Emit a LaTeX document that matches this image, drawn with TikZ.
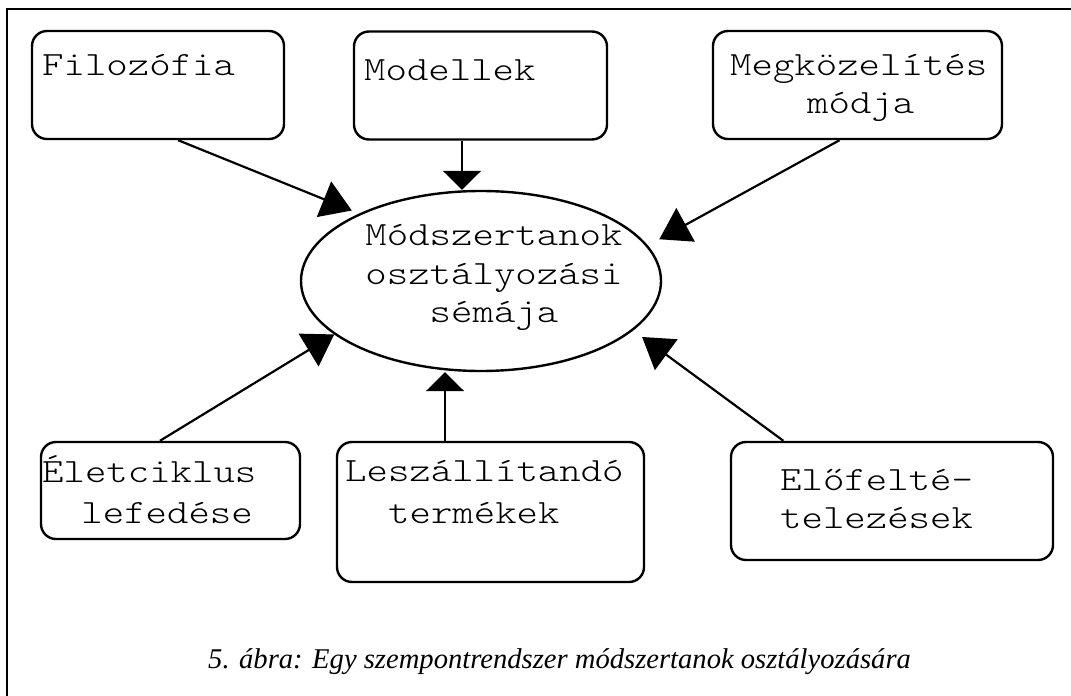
\documentclass[tikz,border=0pt]{standalone}
\usepackage{fontspec}
\setmainfont{Liberation Serif}
\newfontfamily\boxfont{Latin Modern Mono Light}[FakeStretch=1.2]
\usetikzlibrary{arrows.meta,shapes.geometric}
\begin{document}
\begin{tikzpicture}[x=1pt,y=-1pt,
  box/.style={draw,line width=2.4pt,rounded corners=15pt,inner sep=0pt},
  oval/.style={draw,line width=2.4pt,ellipse,inner sep=0pt,
    minimum width=360pt,minimum height=180pt},
  lbl/.style={inner sep=0pt,font=\boxfont\fontsize{34}{39}\selectfont},
  captxt/.style={inner sep=0pt,font=\fontsize{28.6}{32}\selectfont\itshape},
  slant/.style={line width=2.2pt,-{Triangle[length=30pt,width=38pt]}},
  vert/.style={line width=2.2pt,-{Triangle[length=19pt,width=38pt]}}]
\useasboundingbox (0,0) rectangle (1071,696);

% frame
\draw[line width=2.5pt] (7,696) -- (7,9) -- (1071,9);

% central oval
\node[oval] (ell) at (481,281) {};
\node[lbl,anchor=base] (ell1) at (494,245) {Módszertanok};
\node[lbl,anchor=base] (ell2) at (494,284) {osztályozási};
\node[lbl,anchor=base] (ell3) at (494,322) {sémája};

% upper boxes
\node[box,minimum width=252pt,minimum height=108pt] (filo) at (158,85) {};
\node[lbl,anchor=base west] (filoT) at (42,75) {Filozófia};

\node[box,minimum width=253pt,minimum height=108pt] (mod) at (480.5,85.5) {};
\node[lbl,anchor=base west] (modT) at (364,80) {Modellek};

\node[box,minimum width=289pt,minimum height=108pt] (megk) at (857.5,85) {};
\node[lbl,anchor=base west] (megkT1) at (730,75) {Megközelítés};
\node[lbl,anchor=base west] (megkT2) at (807,113) {módja};

% lower boxes
\node[box,minimum width=259pt,minimum height=97pt] (elet) at (170.5,490.5) {};
\node[lbl,anchor=base west] (eletT1) at (42,482) {Életciklus};
\node[lbl,anchor=base east] (eletT2) at (253,523) {lefedése};

\node[box,minimum width=307pt,minimum height=140pt] (lesz) at (490.5,512) {};
\node[lbl,anchor=base west] (leszT1) at (345,481) {Leszállítandó};
\node[lbl,anchor=base west] (leszT2) at (388,523) {termékek};

\node[box,minimum width=322pt,minimum height=118pt] (elof) at (892,501) {};
\node[lbl,anchor=base west] (elofT1) at (780,490) {Előfelté-};
\node[lbl,anchor=base west] (elofT2) at (780,528) {telezések};

% connectors
\draw[slant,shorten >=8pt] (filo.-70.6) -- (ell.151.2);
\draw[vert] ([xshift=-18.5pt]mod.south) -- ([xshift=-19pt]ell.north);
\draw[slant,shorten >=13pt] (megk.-108) -- (ell.12);
\draw[slant] (elet.102) -- (ell.200.6);
\draw[vert] ([xshift=-45.5pt]lesz.north) -- ([xshift=-36pt]ell.south);
\draw[slant,shorten >=11pt] (elof.151) -- (ell.-18.2);

% caption
\node[captxt,anchor=base west] (cap) at (208,668)
  {5. ábra: Egy szempontrendszer módszertanok osztályozására};
\end{tikzpicture}
\end{document}
